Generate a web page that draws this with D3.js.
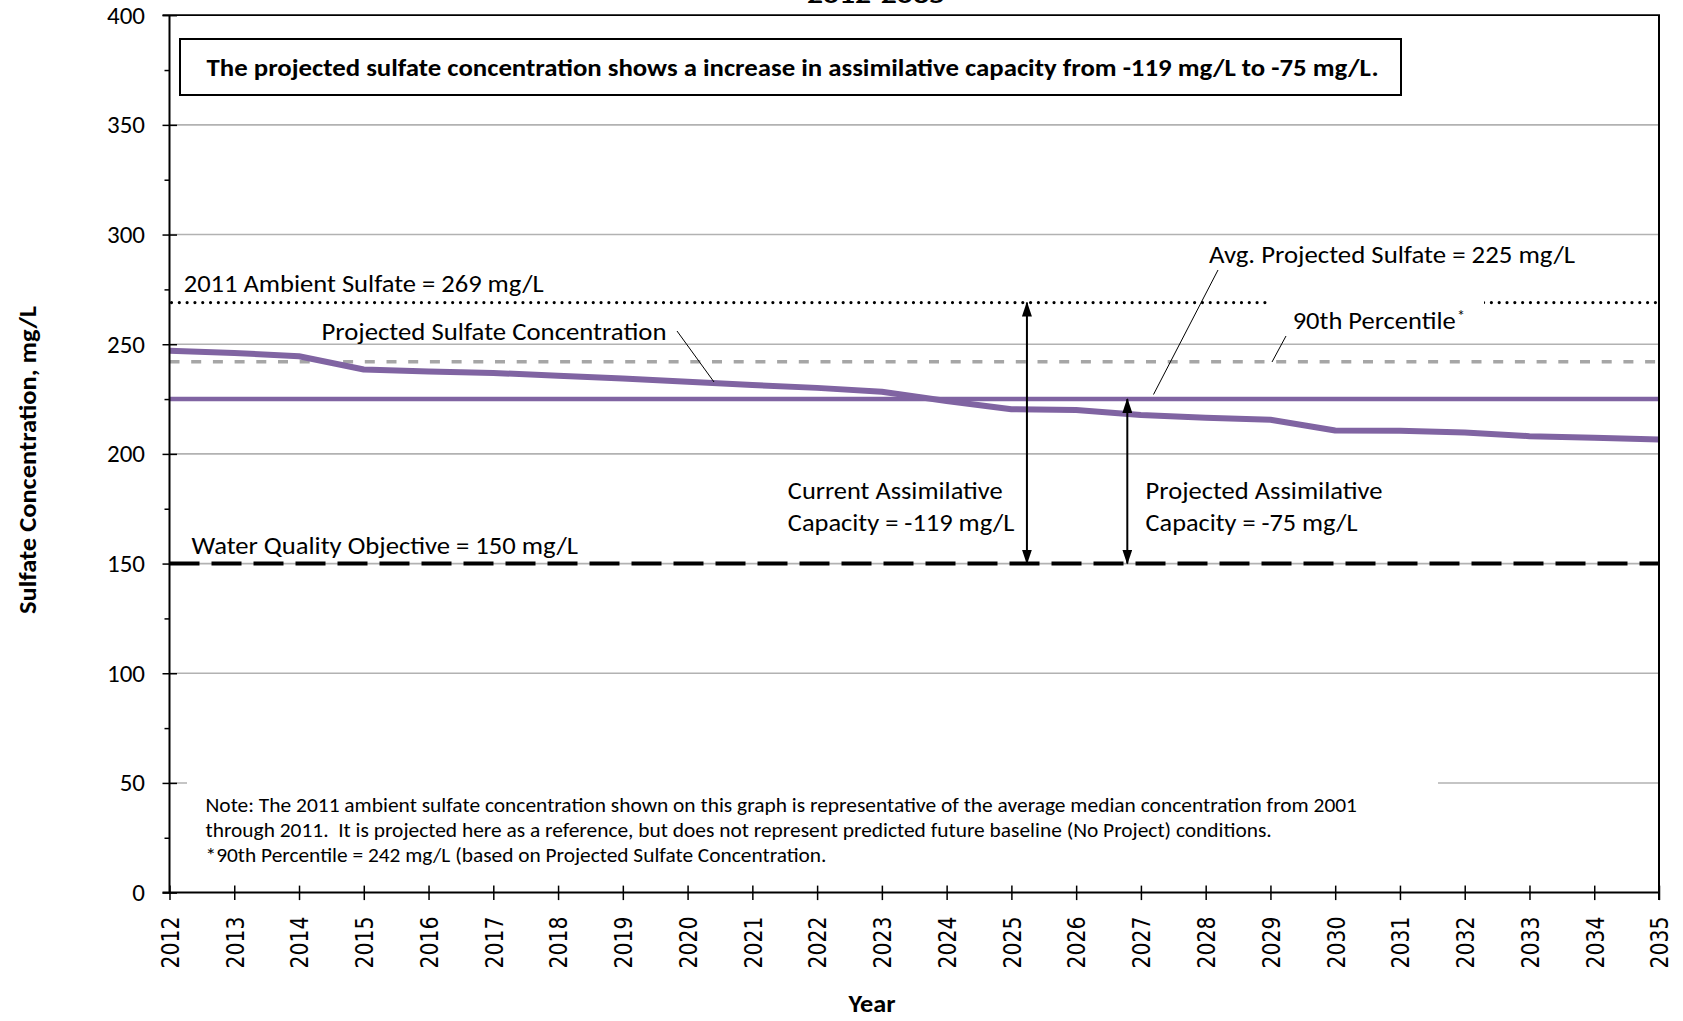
<!DOCTYPE html>
<html><head><meta charset="utf-8">
<script src="https://cdn.jsdelivr.net/npm/d3@7"></script>
<style>
body{margin:0;background:#fff}
svg{display:block}
text{font-family:'Carlito','Open Sans',sans-serif;fill:#000}
</style>
</head><body>
<svg id="chart" width="1683" height="1021"></svg>
<script>
// ---------- data ----------
const years = [2012,2013,2014,2015,2016,2017,2018,2019,2020,2021,2022,2023,2024,2025,2026,2027,2028,2029,2030,2031,2032,2033,2034,2035];
const projectedSulfate = [247,246,244.5,238.5,237.6,236.9,235.6,234.4,232.9,231.4,230.1,228.3,224.1,220.4,220,217.7,216.5,215.6,210.7,210.5,209.8,208.1,207.4,206.6];
const ambient2011 = 269;
const percentile90 = 242;
const avgProjected = 225;
const waterQualityObjective = 150;
const yTickValues = [0,50,100,150,200,250,300,350,400];
const yMinorValues = [25,75,125,175,225,275,325,375];
const yGridValues = [50,100,150,200,250,300,350];

// ---------- layout ----------
const svg = d3.select("#chart");
const X0 = 169.5, X1 = 1659, Y0 = 892.6, Y1 = 15.2;
const x = d3.scaleLinear().domain([2012, 2035]).range([X0, X1]);
const y = d3.scaleLinear().domain([0, 400]).range([Y0, Y1]);

function fit(sel, w){ sel.attr("textLength", w).attr("lengthAdjust", "spacingAndGlyphs"); return sel; }

// defs: arrow marker
const defs = svg.append("defs");
defs.append("marker").attr("id","arr")
  .attr("viewBox","0 0 15 10").attr("refX",14).attr("refY",5)
  .attr("markerWidth",15).attr("markerHeight",10).attr("markerUnits","userSpaceOnUse")
  .attr("orient","auto-start-reverse")
  .append("path").attr("d","M0,0 L15,5 L0,10 Z").attr("fill","#000");

// gridlines
svg.append("g").selectAll("line").data(yGridValues).join("line")
  .attr("x1", X0).attr("x2", X1).attr("y1", d => y(d)).attr("y2", d => y(d))
  .attr("stroke", "#b2b2b2").attr("stroke-width", 1.6);

// note box background (covers gridline)
svg.append("rect").attr("x",187).attr("y",770).attr("width",1251).attr("height",102).attr("fill","#fff");

// reference lines
svg.append("line").attr("x1",X0).attr("x2",X1)
  .attr("y1",y(waterQualityObjective)).attr("y2",y(waterQualityObjective))
  .attr("stroke","#000").attr("stroke-width",4).attr("stroke-dasharray","30,12");
svg.append("line").attr("x1",X0).attr("x2",X1)
  .attr("y1",y(percentile90)).attr("y2",y(percentile90))
  .attr("stroke","#a6a6a6").attr("stroke-width",3.5).attr("stroke-dasharray","10,11.7");
svg.append("line").attr("x1",X0+2).attr("x2",X1)
  .attr("y1",y(ambient2011)).attr("y2",y(ambient2011))
  .attr("stroke","#000").attr("stroke-width",3.2).attr("stroke-linecap","round")
  .attr("stroke-dasharray","0.01,7.8");
svg.append("line").attr("x1",X0).attr("x2",X1)
  .attr("y1",y(avgProjected)).attr("y2",y(avgProjected))
  .attr("stroke","#8064a2").attr("stroke-width",4.4);

// projected line
const line = d3.line().x((d,i) => x(years[i])).y(d => y(d));
svg.append("path").datum(projectedSulfate).attr("d", line)
  .attr("fill","none").attr("stroke","#8064a2").attr("stroke-width",6).attr("stroke-linejoin","round");

// white box behind 90th percentile label
svg.append("rect").attr("x",1268.5).attr("y",294).attr("width",215.5).attr("height",44).attr("fill","#fff");

// arrows
svg.append("line").attr("x1",x(2025.24)).attr("x2",x(2025.24))
  .attr("y1",y(ambient2011)).attr("y2",y(waterQualityObjective))
  .attr("stroke","#000").attr("stroke-width",2)
  .attr("marker-start","url(#arr)").attr("marker-end","url(#arr)");
svg.append("line").attr("x1",x(2026.79)).attr("x2",x(2026.79))
  .attr("y1",y(avgProjected)).attr("y2",y(waterQualityObjective))
  .attr("stroke","#000").attr("stroke-width",2)
  .attr("marker-start","url(#arr)").attr("marker-end","url(#arr)");

// leader lines
const leaders = [[677,331,714,382],[1218,270,1153.5,394.5],[1286,336,1272,362]];
svg.append("g").selectAll("line").data(leaders).join("line")
  .attr("x1",d=>d[0]).attr("y1",d=>d[1]).attr("x2",d=>d[2]).attr("y2",d=>d[3])
  .attr("stroke","#000").attr("stroke-width",1);

// axes
const yAxis = svg.append("g").attr("transform",`translate(${X0},0)`)
  .call(d3.axisLeft(y).tickValues(yTickValues).tickSize(7).tickPadding(17.5).tickFormat(d3.format("d")));
yAxis.select(".domain").remove();
yAxis.selectAll(".tick line").attr("x2",7.5).attr("x1",-7).attr("stroke","#000").attr("stroke-width",1.5);
yAxis.selectAll("text").style("font-family","'Carlito','Open Sans',sans-serif").style("font-size","25px").attr("fill","#000");

const yMinor = svg.append("g").attr("transform",`translate(${X0},0)`)
  .call(d3.axisLeft(y).tickValues(yMinorValues).tickSize(5).tickFormat(""));
yMinor.select(".domain").remove();
yMinor.selectAll(".tick line").attr("stroke","#000").attr("stroke-width",1.5);

const xAxis = svg.append("g").attr("transform",`translate(0,${Y0})`)
  .call(d3.axisBottom(x).tickValues(years).tickSize(7).tickFormat(d3.format("d")));
xAxis.select(".domain").remove();
xAxis.selectAll(".tick line").attr("y1",-7).attr("y2",7.5).attr("stroke","#000").attr("stroke-width",1.5);
xAxis.selectAll("text")
  .attr("transform","rotate(-90)").attr("x",-24).attr("y",0).attr("dy","0.36em")
  .attr("text-anchor","end")
  .style("font-family","'DejaVu Sans Condensed','DejaVu Sans',sans-serif")
  .style("font-stretch","condensed").style("font-size","24.5px").attr("fill","#000")
  .attr("textLength",52).attr("lengthAdjust","spacingAndGlyphs");

// frame
svg.append("line").attr("x1",X0).attr("x2",X0).attr("y1",Y1).attr("y2",Y0).attr("stroke","#000").attr("stroke-width",2);
svg.append("line").attr("x1",X0-7).attr("x2",X1+1).attr("y1",Y0).attr("y2",Y0).attr("stroke","#000").attr("stroke-width",2);
svg.append("line").attr("x1",X0-7).attr("x2",X1+1).attr("y1",Y1).attr("y2",Y1).attr("stroke","#000").attr("stroke-width",1.8);
svg.append("line").attr("x1",X1).attr("x2",X1).attr("y1",Y1).attr("y2",Y0+7.5).attr("stroke","#000").attr("stroke-width",2);

// title (mostly cut off at top, as in the original)
fit(svg.append("text").attr("x",876).attr("y",3).attr("text-anchor","middle")
  .style("font-size","23px").style("font-weight","bold").text("2012-2035"),138);

// summary box
svg.append("rect").attr("x",180).attr("y",39).attr("width",1221).attr("height",56)
  .attr("fill","#fff").attr("stroke","#000").attr("stroke-width",2);
fit(svg.append("text").attr("x",206.6).attr("y",75.5).style("font-size","24px").style("font-weight","bold")
  .text("The projected sulfate concentration shows a increase in assimilative capacity from -119 mg/L to -75 mg/L."),1172);

// annotation labels
const labels = [
  {t:"2011 Ambient Sulfate = 269 mg/L", x:183.7, y:292, w:360},
  {t:"Projected Sulfate Concentration", x:321.5, y:340, w:345},
  {t:"Avg. Projected Sulfate = 225 mg/L", x:1209, y:263.3, w:366},
  {t:"90th Percentile", x:1292.7, y:329, w:163},
  {t:"Water Quality Objective = 150 mg/L", x:191.4, y:554, w:386.6},
  {t:"Current Assimilative", x:787.8, y:499, w:214.8},
  {t:"Capacity = -119 mg/L", x:787.8, y:531, w:226.6},
  {t:"Projected Assimilative", x:1145.6, y:499, w:236.9},
  {t:"Capacity = -75 mg/L", x:1145.6, y:531, w:212}
];
labels.forEach(l => fit(svg.append("text").attr("x",l.x).attr("y",l.y).style("font-size","24.5px").text(l.t), l.w));
svg.append("text").attr("x",1457).attr("y",321).style("font-size","16px").text("*");

// note
const notes = [
  {t:"Note: The 2011 ambient sulfate concentration shown on this graph is representative of the average median concentration from 2001", y:811.7, w:1151.5},
  {t:"through 2011.  It is projected here as a reference, but does not represent predicted future baseline (No Project) conditions.", y:837.3, w:1066.2},
  {t:"*90th Percentile = 242 mg/L (based on Projected Sulfate Concentration.", y:861.7, w:621}
];
notes.forEach(n => fit(svg.append("text").attr("x",205.5).attr("y",n.y).attr("xml:space","preserve")
  .style("white-space","pre").style("font-size","20px").text(n.t), n.w));

// axis titles
fit(svg.append("text").attr("transform","translate(36,460) rotate(-90)").attr("text-anchor","middle")
  .style("font-size","25px").style("font-weight","bold").text("Sulfate Concentration, mg/L"),308);
fit(svg.append("text").attr("x",872).attr("y",1012).attr("text-anchor","middle")
  .style("font-size","25px").style("font-weight","bold").text("Year"),47);
</script>
</body></html>
